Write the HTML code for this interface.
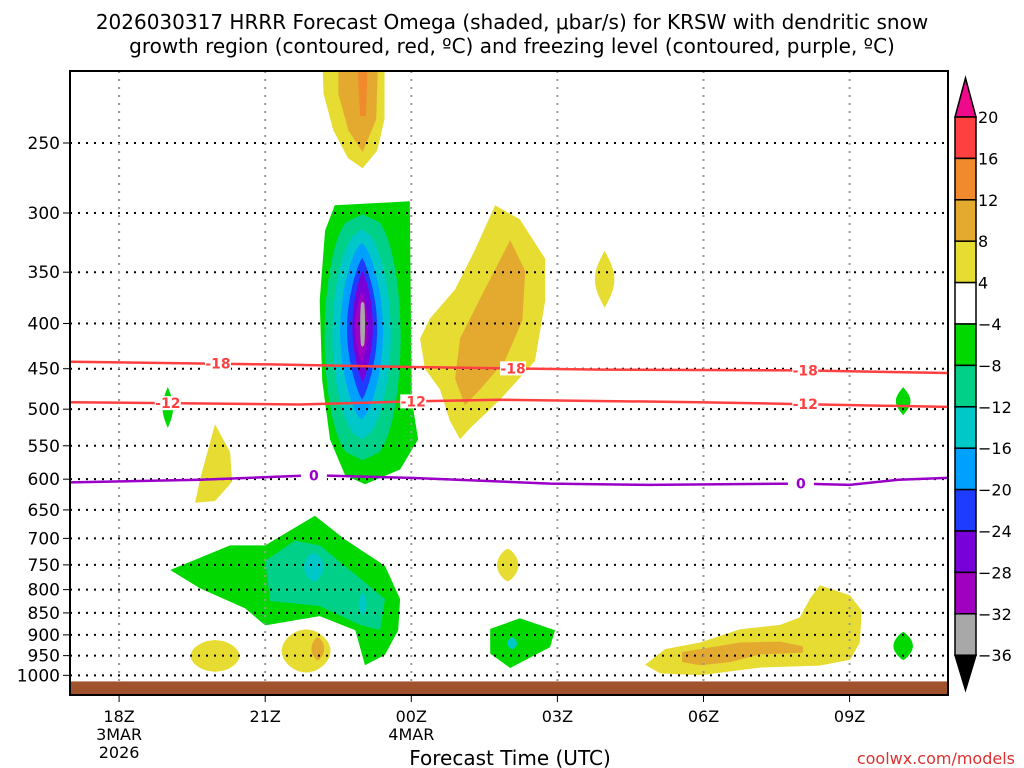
<!DOCTYPE html>
<html><head><meta charset="utf-8"><style>
html,body{margin:0;padding:0;background:#fff;}
svg{display:block;font-family:"DejaVu Sans","Liberation Sans",sans-serif;}
</style></head><body>
<svg id="chart" width="1024" height="768" viewBox="0 0 1024 768" xmlns="http://www.w3.org/2000/svg">
<text x="512" y="29" font-size="20" text-anchor="middle" fill="#000">2026030317 HRRR Forecast Omega (shaded, μbar/s) for KRSW with dendritic snow</text>
<text x="512" y="53" font-size="20" text-anchor="middle" fill="#000">growth region (contoured, red, ºC) and freezing level (contoured, purple, ºC)</text>
<defs><clipPath id="plotclip"><rect x="70" y="71" width="878" height="624"/></clipPath></defs>
<g id="fills" clip-path="url(#plotclip)"></g>
<g id="grid"></g>
<g id="lines" clip-path="url(#plotclip)"></g>
<rect x="70" y="71" width="878" height="624" fill="none" stroke="#000" stroke-width="2"/>
<g id="axes"></g>
<g id="cbar"></g>
<text x="510" y="765" font-size="20" text-anchor="middle">Forecast Time (UTC)</text>
<text x="1015" y="764" font-size="16" text-anchor="end" fill="#e03030">coolwx.com/models</text>
</svg>
<script>
// ---- data ----
const pressureTicks = [250,300,350,400,450,500,550,600,650,700,750,800,850,900,950,1000];
const timeTickHours = [1,4,7,10,13,16];
const timeTickLabels = ["18Z","21Z","00Z","03Z","06Z","09Z"];
const timeTickDates = ["3MAR\n2026","","4MAR","","",""];
const cbarLevels = [20,16,12,8,4,-4,-8,-12,-16,-20,-24,-28,-32,-36];
const cbarColors = ["#ff4040","#f08a2c","#e4aa30","#e6dc32","#ffffff","#00d800","#00d088","#00c8c8","#00a0ff","#1e3cff","#7800d8","#a000c0","#a8a8a8"];
// lens-shaped omega regions: [level color index, centre hour, half-width hours, top hPa, bottom hPa, exponent]
const lensRegions = [
 [6,6.0,0.78,301,571,0.35],[7,5.98,0.6,313,541,0.5],[8,5.98,0.44,324,514,0.65],
 [9,5.99,0.31,337,488,0.8],[10,6.0,0.21,349,466,0.8],[11,5.98,0.13,368,443,0.8],[12,6.0,0.05,378,425,0.2],
 [5,2.0,0.11,472,525,1],[5,17.1,0.15,472,508,1],[7,5.0,0.2,727,783,0.6],[7,6.0,0.08,806,855,0.8],
 [3,8.98,0.22,719,783,0.7],[7,9.07,0.1,905,935,0.8],[3,2.97,0.5,912,991,0.5],[3,4.84,0.5,887,993,0.5],
 [2,5.08,0.13,905,962,0.7],[5,17.1,0.2,893,961,0.8],[3,10.97,0.2,331,384,1]
];
const mainGreen = [[5.43,294],[6.97,291],[6.99,377],[7.01,488],[7.14,541],[6.77,585],[6.05,608],[5.64,594],[5.33,541],[5.17,464],[5.12,377],[5.23,314]];
const topYellow = [[5.17,200],[6.45,200],[6.45,235],[6.3,255],[6.0,267],[5.7,260],[5.4,242],[5.2,220]];
const topGold = [[5.5,200],[6.32,200],[6.28,235],[6.0,256],[5.71,242],[5.5,220]];
const topOrange = [[5.88,200],[6.11,200],[6.07,233],[5.95,233]];
const rightYellow = [[8.72,294],[9.23,305],[9.75,338],[9.75,377],[9.54,441],[8.82,488],[8.2,526],[8.0,541],[7.79,515],[7.59,475],[7.28,450],[7.18,416],[7.38,395],[7.9,366],[8.31,330]];
const rightGold = [[9.03,322],[9.34,349],[9.28,397],[8.92,441],[8.41,475],[8.1,495],[7.9,462],[8.0,416],[8.51,366]];
const midYellow = [[2.97,520],[3.28,559],[3.32,604],[2.97,635],[2.56,638],[2.66,601]];
const lowGreen = [[2.05,760],[3.28,713],[4.0,713],[5.02,660],[5.64,702],[6.46,752],[6.77,820],[6.73,889],[6.46,948],[6.05,974],[5.85,889],[5.12,857],[4.0,878],[3.59,840],[2.66,797]];
const lowTeal = [[4.0,742],[4.61,704],[5.12,713],[5.85,769],[6.46,820],[6.36,889],[5.95,877],[5.12,835],[4.1,824]];
const midGreen = [[8.62,886],[9.23,862],[9.95,889],[9.85,929],[9.03,981],[8.62,945]];
const brYellow = [[11.8,973],[12.21,934],[12.93,918],[13.75,887],[14.57,877],[14.98,860],[15.19,818],[15.39,791],[16.01,812],[16.25,845],[16.21,918],[16.01,960],[15.39,975],[14.16,980],[12.93,1000],[12.11,995]];
const brGold = [[12.56,941],[12.93,934],[13.75,918],[14.57,916],[15.04,927],[15.04,943],[14.16,947],[13.55,966],[12.93,974],[12.56,966]];
const isoHours = [0,4.1,7,10.9,15,18];
const iso18 = [442,445,448,451,452,455];
const iso12Hours = [0,4.7,7,8.8,12.9,18];
const iso12 = [491,494,490,488,491,497];
const iso0Hours = [0,2.66,5,7,9.85,11.9,15,16,17,18];
const iso0 = [605,601,594,598,607,609,607,609,601,598];
const groundP = 1016;

// ---- scales ----
const X = h => 70.4 + h*48.7;
const Y = p => 143 + 384*Math.log(p/250);
const NS = "http://www.w3.org/2000/svg";
function mk(tag, attrs, parent){const e=document.createElementNS(NS,tag);for(const k in attrs)e.setAttribute(k,attrs[k]);parent.appendChild(e);return e;}
const fills=document.getElementById('fills'), grid=document.getElementById('grid'), lines=document.getElementById('lines'), axes=document.getElementById('axes'), cbar=document.getElementById('cbar');

function poly(pts, ci, name){
  const e=mk('polygon',{points:pts.map(q=>X(q[0]).toFixed(1)+','+Y(q[1]).toFixed(1)).join(' '),fill:cbarColors[ci]},fills);
  
  
}
poly(topYellow,3,'omega-region-upper-yellow');poly(topGold,2,'omega-region-upper-gold');poly(topOrange,1,'omega-region-upper-orange');
poly(rightYellow,3,'omega-region-right-yellow');poly(rightGold,2,'omega-region-right-gold');
poly(midYellow,3,'omega-region-mid-yellow');
poly(lowGreen,5,'omega-region-low-green');poly(lowTeal,6,'omega-region-low-teal');
poly(midGreen,5,'omega-region-mid-green');
poly(brYellow,3,'omega-region-lowright-yellow');poly(brGold,2,'omega-region-lowright-gold');
poly(mainGreen,5,'omega-region-main-green');
lensRegions.forEach(r=>{
  const [ci,h0,hw,pt,pb,ex]=r, N=30, R=[], L=[];
  for(let i=0;i<=N;i++){const t=i/N;const p=Math.exp(Math.log(pt)+(Math.log(pb)-Math.log(pt))*t);const w=hw*Math.pow(Math.sin(Math.PI*t),ex);R.push([h0+w,p]);L.unshift([h0-w,p]);}
  poly(R.concat(L),ci,'omega-region-lens');
});
// ground
const gr=mk('rect',{x:70,y:Y(groundP),width:878,height:695-Y(groundP),fill:'#a0522d'},fills);



// grid + axes
pressureTicks.forEach(p=>{
  const y=Y(p);
  const g=mk('line',{x1:70,x2:948,y1:y,y2:y,stroke:'#000','stroke-width':2,'stroke-dasharray':'2,6'},grid);
  
  
  mk('line',{x1:63,x2:70,y1:y,y2:y,stroke:'#000','stroke-width':1},axes);
  const t=mk('text',{x:60,y:y+6,'font-size':17,'text-anchor':'end'},axes);t.textContent=p;
  
  
});
timeTickHours.forEach((h,i)=>{
  const x=X(h);
  const g=mk('line',{x1:x,x2:x,y1:71,y2:683,stroke:'#999','stroke-width':2,'stroke-dasharray':'2,6'},grid);
  
  
  mk('line',{x1:x,x2:x,y1:695,y2:702,stroke:'#000','stroke-width':1},axes);
  const lbls=[timeTickLabels[i]].concat(timeTickDates[i]?timeTickDates[i].split('\n'):[]);
  lbls.forEach((s,j)=>{const t=mk('text',{x:x,y:722+j*18,'font-size':16,'text-anchor':'middle'},axes);t.textContent=s;
    
    });
});

// isotherms
function iso(hours, ps, color, labelHours, label, name){
  const pts=hours.map((h,i)=>X(h).toFixed(1)+','+Y(ps[i]).toFixed(1)).join(' ');
  const l=mk('polyline',{points:pts,fill:'none',stroke:color,'stroke-width':2.5},lines);
  
  
  labelHours.forEach(h=>{
    let k=0;while(k<hours.length-2&&hours[k+1]<h)k++;
    const f=(h-hours[k])/(hours[k+1]-hours[k]);const p=ps[k]+(ps[k+1]-ps[k])*f;
    mk('rect',{x:X(h)-13,y:Y(p)-7,width:26,height:14,fill:'#fff'},lines);
    const t=mk('text',{x:X(h),y:Y(p)+5,'font-size':14,'font-weight':'bold','text-anchor':'middle',fill:color},lines);
    t.textContent=label;
    
    
  });
}
iso(isoHours,iso18,'#ff4040',[3.03,9.09,15.09],'-18','isotherm-minus-18');
iso(iso12Hours,iso12,'#ff4040',[2.0,7.04,15.09],'-12','isotherm-minus-12');
iso(iso0Hours,iso0,'#9a00c8',[5.0,15.0],'0','freezing-level');

// colorbar
const cbX=955,cbW=21,cbTop=117,cbH=41.4;
const tp=mk('polygon',{points:`${cbX},${cbTop} ${cbX+cbW},${cbTop} ${cbX+cbW/2},78`,fill:'#ee0a8a',stroke:'#000','stroke-width':1.5},cbar);


cbarColors.forEach((c,i)=>{
  const r=mk('rect',{x:cbX,y:cbTop+i*cbH,width:cbW,height:cbH,fill:c,stroke:'#000','stroke-width':1.5},cbar);
  
  
});
const bt=cbTop+cbarColors.length*cbH;
const bp=mk('polygon',{points:`${cbX},${bt} ${cbX+cbW},${bt} ${cbX+cbW/2},690`,fill:'#000',stroke:'#000','stroke-width':1.5},cbar);


cbarLevels.forEach((v,i)=>{
  const t=mk('text',{x:978,y:cbTop+i*cbH+6,'font-size':16},cbar);
  t.textContent=v<0?'\u2212'+(-v):String(v);
  
  
});
</script>
</body></html>
